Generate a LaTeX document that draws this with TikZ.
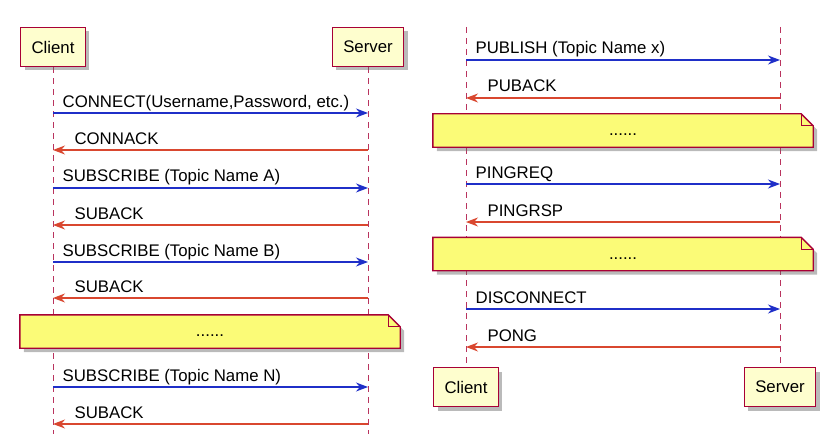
\documentclass[tikz,border=0pt]{standalone}
\usepackage{fontspec}
\setmainfont{Liberation Sans}
\usetikzlibrary{arrows.meta,shadows,backgrounds}

\definecolor{umlred}{HTML}{A80036}
\definecolor{partfill}{HTML}{FEFECE}
\definecolor{notefill}{HTML}{FBFB77}
\definecolor{reqblue}{HTML}{1F2FC8}
\definecolor{ackred}{HTML}{D9472F}

\tikzset{
  party/.style={draw=umlred, fill=partfill, line width=1.4pt, minimum height=39pt, inner xsep=11pt,
    drop shadow={shadow xshift=4pt, shadow yshift=-4pt, opacity=0.45, fill=black!60}},
  lifeline/.style={draw=umlred!80, dash pattern=on 6pt off 5pt, line width=1pt},
  req/.style={draw=reqblue, line width=1.3pt, -{Stealth[length=12pt,width=9pt]}},
  ack/.style={draw=ackred, line width=1.1pt, -{Stealth[length=12pt,width=9pt]}},
  reqlabel/.style={anchor=base west, xshift=9pt, yshift=6pt, inner sep=0pt},
  acklabel/.style={anchor=base west, xshift=21pt, yshift=6pt, inner sep=0pt},
  notetext/.style={minimum width=380pt, minimum height=33pt, inner sep=0pt, text height=10pt, text depth=0pt},
  notebody/.style={draw=umlred, fill=notefill, line width=1.4pt,
    drop shadow={shadow xshift=4pt, shadow yshift=-4pt, opacity=0.45, fill=black!60}}
}

\begin{document}
\begin{tikzpicture}[x=1pt, y=-1pt, font=\fontsize{16.8}{19}\selectfont]
  \useasboundingbox (0,0) rectangle (831,436);

  \node[party] (lcli) at (53,47) {Client};
  \node[party] (lsrv) at (368,47) {Server};
  \coordinate (lcbot) at (53,434);
  \coordinate (lsbot) at (368,434);

  \node[party] (rcli) at (466,387) {Client};
  \node[party] (rsrv) at (780,387) {Server};
  \coordinate (rctop) at (466,27);
  \coordinate (rstop) at (780,27);

  \foreach \n/\y in {1/113,2/150,3/188,4/225,5/262,6/298,7/387,8/424} {
    \coordinate (lc\n) at (53,\y);
    \coordinate (ls\n) at (368,\y);
  }
  \foreach \n/\y in {1/60,2/98,3/184,4/222,5/309,6/347} {
    \coordinate (rc\n) at (466,\y);
    \coordinate (rs\n) at (780,\y);
  }

  \node[notetext] (lnote) at (210,331.5) {......};
  \node[notetext] (rnote1) at (623,130.5) {......};
  \node[notetext] (rnote2) at (623,254) {......};

  \begin{scope}[on background layer]
    \draw[lifeline] (lcli) -- (lcbot);
    \draw[lifeline] (lsrv) -- (lsbot);
    \draw[lifeline] (rctop) -- (rcli);
    \draw[lifeline] (rstop) -- (rsrv);
    \foreach \nt in {lnote,rnote1,rnote2} {
      \path[notebody] (\nt.south west) -- (\nt.north west) -- ([xshift=-12pt]\nt.north east)
        -- ([yshift=-12pt]\nt.north east) -- (\nt.south east) -- cycle;
      \draw[umlred, line width=1pt] ([xshift=-12pt]\nt.north east) -- ([xshift=-12pt,yshift=-12pt]\nt.north east)
        -- ([yshift=-12pt]\nt.north east);
    }
  \end{scope}

  \draw[req] (lc1) -- node[reqlabel, pos=0] {CONNECT(Username,Password, etc.)} (ls1);
  \draw[ack] (ls2) -- node[acklabel, pos=1] {CONNACK} (lc2);
  \draw[req] (lc3) -- node[reqlabel, pos=0] {SUBSCRIBE (Topic Name A)} (ls3);
  \draw[ack] (ls4) -- node[acklabel, pos=1] {SUBACK} (lc4);
  \draw[req] (lc5) -- node[reqlabel, pos=0] {SUBSCRIBE (Topic Name B)} (ls5);
  \draw[ack] (ls6) -- node[acklabel, pos=1] {SUBACK} (lc6);
  \draw[req] (lc7) -- node[reqlabel, pos=0] {SUBSCRIBE (Topic Name N)} (ls7);
  \draw[ack] (ls8) -- node[acklabel, pos=1] {SUBACK} (lc8);

  \draw[req] (rc1) -- node[reqlabel, pos=0] {PUBLISH (Topic Name x)} (rs1);
  \draw[ack] (rs2) -- node[acklabel, pos=1] {PUBACK} (rc2);
  \draw[req] (rc3) -- node[reqlabel, pos=0] {PINGREQ} (rs3);
  \draw[ack] (rs4) -- node[acklabel, pos=1] {PINGRSP} (rc4);
  \draw[req] (rc5) -- node[reqlabel, pos=0] {DISCONNECT} (rs5);
  \draw[ack] (rs6) -- node[acklabel, pos=1] {PONG} (rc6);
\end{tikzpicture}
\end{document}
